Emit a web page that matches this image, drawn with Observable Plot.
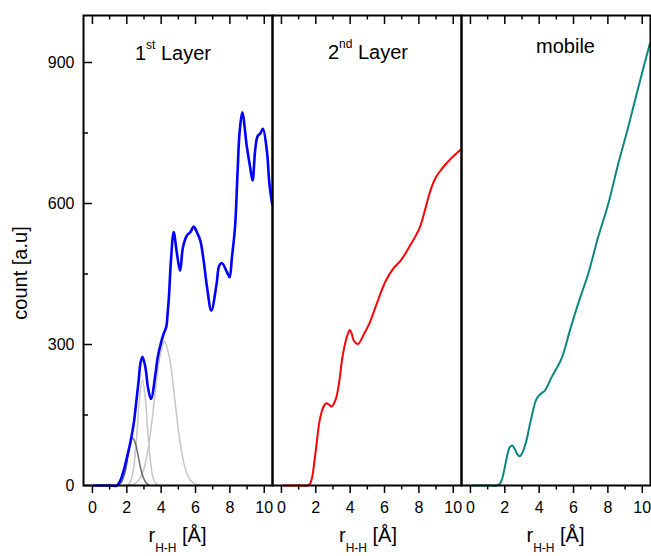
<!DOCTYPE html>
<html>
<head>
<meta charset="utf-8">
<script src="https://cdn.jsdelivr.net/npm/d3@7"></script>
<script src="https://cdn.jsdelivr.net/npm/@observablehq/plot@0.6"></script>
<style>
  body { margin: 0; background: #fff; }
  #chart { position: relative; width: 651px; height: 556px; font-family: "Liberation Sans", Arial, sans-serif; }
  #chart svg { position: absolute; top: 0; max-width: none; overflow: visible; }
</style>
</head>
<body>
<div id="chart"></div>
<script>
// ---- tick values ----
const xMajorTicks = [0, 2, 4, 6, 8, 10];
const xMinorTicks = [1, 3, 5, 7, 9];
const yMajorTicks = [0, 300, 600, 900];
const yMinorTicks = [150, 450, 750];

// ---- panel labels ----
const panelTitleMain = ["1", "2", "mobile"];
const panelTitleSup = ["st", "nd", ""];
const panelTitleRest = [" Layer", " Layer", ""];
const xLabelMain = "r";
const xLabelSub = "H-H";
const xLabelRest = " [Å]";
const yLabel = "count [a.u]";

// ---- 1st layer (blue) ----
const layer1R = [0.1, 1.0, 1.43, 1.63, 1.82, 2.01, 2.21, 2.4, 2.56, 2.69, 2.79, 2.91, 3.08, 3.23, 3.41, 3.67, 3.8, 4.0, 4.15, 4.3, 4.38, 4.45, 4.57, 4.73, 4.92, 5.1, 5.27, 5.5, 5.7, 5.89, 6.08, 6.28, 6.47, 6.67, 6.92, 7.23, 7.38, 7.54, 7.83, 7.98, 8.12, 8.3, 8.41, 8.5, 8.56, 8.72, 8.99, 9.18, 9.32, 9.47, 9.61, 9.77, 9.92, 10.15, 10.3, 10.46];
const layer1Count = [0, 0, 0, 11, 32, 60, 92, 131, 181, 223, 259, 274, 252, 209, 184, 238, 273, 305, 323, 338, 368, 400, 479, 539, 493, 457, 507, 532, 539, 551, 539, 521, 479, 422, 372, 430, 468, 473, 454, 443, 486, 550, 635, 713, 749, 794, 720, 677, 649, 713, 743, 749, 759, 713, 642, 599];

// ---- fitted components of the 1st layer (grey) ----
const fitDarkR = [1.5, 1.7, 1.9, 2.05, 2.2, 2.34, 2.5, 2.65, 2.8, 2.95, 3.1, 3.3];
const fitDarkCount = [1, 8, 28, 58, 88, 101, 90, 65, 38, 18, 7, 1];
const fitLight1R = [2.0, 2.16, 2.31, 2.46, 2.61, 2.76, 2.91, 3.06, 3.21, 3.36, 3.51, 3.66, 3.82];
const fitLight1Count = [1, 5, 19, 56, 121, 193, 225, 193, 121, 56, 19, 5, 1];
const fitLight2R = [2.1, 2.4, 2.7, 3.0, 3.3, 3.6, 3.9, 4.19, 4.5, 4.8, 5.1, 5.4, 5.7, 6.0, 6.3];
const fitLight2Count = [1, 3, 11, 36, 92, 180, 269, 307, 269, 180, 92, 36, 11, 3, 1];

// ---- 2nd layer (red) ----
const layer2R = [0.1, 1.0, 1.5, 1.65, 1.8, 1.9, 2.05, 2.19, 2.35, 2.48, 2.62, 2.77, 2.91, 3.05, 3.2, 3.38, 3.55, 3.75, 3.86, 3.98, 4.1, 4.2, 4.45, 4.8, 5.11, 5.4, 5.69, 6.08, 6.56, 6.95, 7.43, 8.02, 8.25, 8.5, 8.75, 8.99, 9.3, 9.57, 10.05, 10.48];
const layer2Count = [0, 0, 0, 3, 20, 46, 90, 131, 158, 170, 175, 172, 168, 174, 188, 225, 273, 309, 322, 331, 322, 309, 301, 322, 344, 372, 401, 436, 464, 479, 507, 546, 572, 606, 636, 656, 672, 684, 702, 716];

// ---- mobile (teal) ----
const mobileR = [0.1, 1.0, 1.5, 1.7, 1.85, 2.0, 2.19, 2.3, 2.43, 2.56, 2.7, 2.87, 3.05, 3.26, 3.45, 3.65, 3.82, 3.98, 4.15, 4.33, 4.72, 5.3, 5.79, 6.27, 6.85, 7.43, 8.02, 8.6, 9.18, 9.77, 10.44];
const mobileCount = [0, 0, 0, 3, 15, 39, 71, 82, 85, 79, 68, 62, 72, 96, 128, 160, 182, 191, 197, 202, 230, 270, 330, 387, 450, 528, 599, 684, 762, 847, 940];

const zip = (xs, ys) => xs.map((x, i) => ({x, y: ys[i]}));

const H = 556, MT = 15, MB = 71;
const FRAME_H = H - MT - MB;   // 470
const PANEL_W = 189;
const FONT = '"Liberation Sans", Arial, sans-serif';

function panel({left, width, marginLeft, marginRight, lines, showY, idx, titleX, titleY, labelX}) {
  const marks = [];
  for (const l of lines) {
    marks.push(Plot.line(l.data, {x: "x", y: "y", stroke: l.color, strokeWidth: l.width, curve: "catmull-rom"}));
  }
  // top inward ticks
  marks.push(Plot.tickX(xMajorTicks, {x: d => d, insetBottom: FRAME_H - 9, stroke: "black", strokeWidth: 1.5}));
  marks.push(Plot.tickX(xMinorTicks, {x: d => d, insetBottom: FRAME_H - 4.5, stroke: "black", strokeWidth: 1.5}));
  // bottom outward ticks with labels
  marks.push(Plot.axisX({ticks: xMajorTicks, tickSize: 8, tickPadding: 8, label: null, fontSize: 16, strokeWidth: 1.5, tickFormat: d => String(d)}));
  marks.push(Plot.axisX({ticks: xMinorTicks, tickSize: 4.5, label: null, strokeWidth: 1.5, tickFormat: () => ""}));
  if (showY) {
    marks.push(Plot.tickY(yMajorTicks, {y: d => d, insetRight: PANEL_W - 9, stroke: "black", strokeWidth: 1.5}));
    marks.push(Plot.tickY(yMinorTicks, {y: d => d, insetRight: PANEL_W - 5, stroke: "black", strokeWidth: 1.5}));
    marks.push(Plot.axisY({ticks: yMajorTicks, tickSize: 0, tickPadding: 9, label: null, fontSize: 16}));
  }
  marks.push(Plot.frame({stroke: "black", strokeWidth: 2}));

  const svg = Plot.plot({
    width, height: H,
    marginLeft, marginRight, marginTop: MT, marginBottom: MB,
    x: {domain: [-0.52, 10.48]},
    y: {domain: [0, 1000], ...(showY ? {} : {axis: null})},
    style: {fontFamily: FONT, fontSize: "16px", color: "black", background: "transparent", overflow: "visible"},
    marks
  });
  svg.style.left = left + "px";
  const s = d3.select(svg);

  // panel title
  const t = s.append("text").attr("x", titleX).attr("y", titleY)
    .attr("text-anchor", "middle").attr("font-size", 20).attr("fill", "black")
    .attr("font-family", FONT);
  t.append("tspan").text(panelTitleMain[idx]);
  if (panelTitleSup[idx]) {
    t.append("tspan").attr("font-size", 12).attr("dy", -11).text(panelTitleSup[idx]);
    t.append("tspan").attr("dy", 11).text(panelTitleRest[idx]);
  }

  // x label
  const xl = s.append("text").attr("x", labelX).attr("y", 542)
    .attr("text-anchor", "middle").attr("font-size", 20).attr("fill", "black")
    .attr("font-family", FONT);
  xl.append("tspan").text(xLabelMain);
  xl.append("tspan").attr("font-size", 12).attr("dy", 10).text(xLabelSub);
  xl.append("tspan").attr("dy", -10).text(xLabelRest);

  if (showY) {
    s.append("text").attr("transform", "translate(27,273) rotate(-90)")
      .attr("text-anchor", "middle").attr("font-size", 20).attr("fill", "black")
      .attr("font-family", FONT)
      .text(yLabel);
  }
  document.getElementById("chart").appendChild(svg);
}

panel({
  left: 0, width: 83 + PANEL_W, marginLeft: 83, marginRight: 0, showY: true, idx: 0,
  titleX: 173, titleY: 60, labelX: 83 + PANEL_W / 2,
  lines: [
    {data: zip(fitLight2R, fitLight2Count), color: "#c6c6c6", width: 1.5},
    {data: zip(fitLight1R, fitLight1Count), color: "#c6c6c6", width: 1.5},
    {data: zip(fitDarkR, fitDarkCount), color: "#6a6a6a", width: 1.5},
    {data: zip(layer1R, layer1Count), color: "#0000ff", width: 2.6}
  ]
});
panel({
  left: 272, width: PANEL_W, marginLeft: 0, marginRight: 0, showY: false, idx: 1,
  titleX: 96, titleY: 59, labelX: 96,
  lines: [{data: zip(layer2R, layer2Count), color: "#ff0000", width: 2}]
});
panel({
  left: 461, width: PANEL_W + 1, marginLeft: 0, marginRight: 1, showY: false, idx: 2,
  titleX: 104.5, titleY: 53, labelX: 94.5,
  lines: [{data: zip(mobileR, mobileCount), color: "#0a8783", width: 2}]
});
</script>
</body>
</html>
